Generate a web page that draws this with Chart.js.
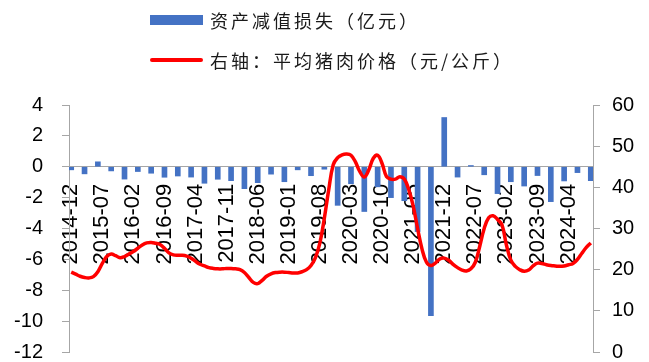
<!DOCTYPE html>
<html>
<head>
<meta charset="utf-8">
<script src="https://cdn.jsdelivr.net/npm/chart.js@4/dist/chart.umd.min.js"></script>
<style>
  html, body { margin: 0; padding: 0; background: #ffffff; }
  canvas { display: block; }
</style>
</head>
<body>
<canvas id="chart" width="649" height="362"></canvas>
<script>
// Quarter-end months that carry an impairment figure
const quarterLabels = [
  '2014-12','2015-03','2015-06','2015-09','2015-12','2016-03','2016-06','2016-09',
  '2016-12','2017-03','2017-06','2017-09','2017-12','2018-03','2018-06','2018-09',
  '2018-12','2019-03','2019-06','2019-09','2019-12','2020-03','2020-06','2020-09',
  '2020-12','2021-03','2021-06','2021-09','2021-12','2022-03','2022-06','2022-09',
  '2022-12','2023-03','2023-06','2023-09','2023-12','2024-03','2024-06','2024-09'
];

// 资产减值损失（亿元）, one value per quarter
const impairmentLoss = [
  -0.20, -0.46, 0.32, -0.27, -0.80, -0.31, -0.42, -0.68,
  -0.60, -0.67, -1.07, -0.81, -0.90, -1.42, -1.03, -0.48,
  -0.97, -0.20, -0.58, -0.16, -2.50, -1.10, -2.90, -1.30,
  -2.00, -2.20, -4.20, -9.64, 3.19, -0.67, 0.08, -0.52,
  -1.74, -0.97, -1.25, -0.57, -2.26, -0.92, -0.38, -0.90
];

// 平均猪肉价格（元/公斤）, monthly from 2014-12 to 2024-09
const pigPrice = [
  19.4, 18.9, 18.4, 18.1, 18.0, 18.3, 19.5, 21.5, 23.2, 23.8,
  23.4, 22.9, 23.2, 23.8, 24.4, 25.2, 26.0, 26.5, 26.6, 26.4,
  26.1, 25.2, 24.1, 23.6, 23.5, 23.5, 23.3, 22.8, 22.0, 21.3,
  20.9, 20.5, 20.3, 20.2, 20.2, 20.3, 20.3, 20.2, 20.0, 19.3,
  18.1, 16.9, 16.6, 17.4, 18.4, 19.0, 19.3, 19.4, 19.4, 19.3,
  19.2, 19.2, 19.5, 20.0, 21.0, 22.9, 26.5, 32.5, 39.5, 45.5,
  47.2, 47.9, 48.1, 47.8, 46.2, 43.8, 42.5, 44.2, 47.0, 47.8,
  45.8, 42.6, 42.0, 42.0, 42.6, 42.0, 39.5, 35.5, 30.0, 25.0,
  21.8, 21.0, 21.6, 22.6, 22.8, 22.3, 21.3, 20.5, 19.9, 19.7,
  20.2, 21.8, 25.7, 30.0, 32.6, 33.1, 32.2, 30.9, 26.0, 22.3,
  20.8, 20.0, 19.6, 19.9, 20.9, 21.6, 21.5, 21.2, 21.0, 20.9,
  20.8, 20.9, 21.2, 21.5, 22.5, 24.0, 25.4, 26.5
];

// Category labels printed along the zero line
const tickLabels = [
  '2014-12','2015-07','2016-02','2016-09','2017-04','2017-11','2018-06','2019-01',
  '2019-08','2020-03','2020-10','2021-05','2021-12','2022-07','2023-02','2023-09','2024-04'
];

const seriesNames = ['资产减值损失（亿元）', '右轴：平均猪肉价格（元/公斤）'];

// Monthly category axis
const months = [];
for (let y = 2014, m = 12; months.length < pigPrice.length; ) {
  months.push(y + '-' + String(m).padStart(2, '0'));
  m++;
  if (m > 12) { m = 1; y++; }
}
const impairmentByMonth = months.map(mo => {
  const k = quarterLabels.indexOf(mo);
  return k >= 0 ? impairmentLoss[k] : null;
});

const BAR_BLUE = '#4472C4';
const LINE_RED = '#FF0000';
const AXIS_GREY = '#A6A6A6';
const TICK_FONT = { family: '"Liberation Sans", Arial, sans-serif', size: 20, lineHeight: 1 };

// Keep the value axes from reserving label padding above/below the plot
function fixValueAxis(width) {
  return function (scale) {
    scale.width = width;
    scale.paddingTop = 10;
    scale.paddingBottom = 10;
  };
}

// Two-row key drawn at the top left of the plot
const seriesKey = {
  id: 'seriesKey',
  afterDraw(chart) {
    const ctx = chart.ctx;
    ctx.save();
    ctx.font = '18px "Noto Sans CJK SC", sans-serif';
    ctx.letterSpacing = '3px';
    ctx.textBaseline = 'middle';
    ctx.textAlign = 'left';

    ctx.fillStyle = BAR_BLUE;
    ctx.fillRect(150, 15, 53, 10);
    ctx.fillStyle = '#1a1a1a';
    ctx.fillText(seriesNames[0], 210, 21);

    ctx.strokeStyle = LINE_RED;
    ctx.lineWidth = 4;
    ctx.lineCap = 'round';
    ctx.beginPath();
    ctx.moveTo(152, 60);
    ctx.lineTo(201, 60);
    ctx.stroke();
    ctx.fillStyle = '#1a1a1a';
    ctx.fillText(seriesNames[1], 210, 61);
    ctx.restore();
  }
};

new Chart(document.getElementById('chart'), {
  type: 'bar',
  data: {
    labels: months,
    datasets: [
      {
        type: 'line',
        label: seriesNames[1],
        data: pigPrice,
        yAxisID: 'y1',
        borderColor: LINE_RED,
        backgroundColor: LINE_RED,
        borderWidth: 3.5,
        pointRadius: 0,
        tension: 0.4,
        fill: false,
        order: 0
      },
      {
        type: 'bar',
        label: seriesNames[0],
        data: impairmentByMonth,
        yAxisID: 'y',
        backgroundColor: BAR_BLUE,
        barThickness: 5,
        order: 1
      }
    ]
  },
  options: {
    responsive: false,
    animation: false,
    devicePixelRatio: 1,
    layout: { padding: { top: 105, left: 0, right: 0, bottom: 0 } },
    plugins: {
      legend: { display: false },
      tooltip: { enabled: false }
    },
    scales: {
      x: {
        type: 'category',
        offset: true,
        position: { y: 0 },
        grid: { display: false },
        border: { display: true, color: AXIS_GREY, width: 1 },
        ticks: {
          autoSkip: false,
          minRotation: 90,
          maxRotation: 90,
          padding: 9,
          color: '#000000',
          font: { family: '"Liberation Sans", Arial, sans-serif', size: 22, lineHeight: 1.2 },
          callback(value) {
            const lab = this.getLabelForValue(value);
            return tickLabels.includes(lab) ? lab : '';
          }
        }
      },
      y: {
        position: 'left',
        min: -12,
        max: 4,
        ticks: { stepSize: 2, padding: 19, color: '#000000', font: TICK_FONT },
        grid: { drawOnChartArea: false, drawTicks: true, tickLength: 7, color: AXIS_GREY },
        border: { display: true, color: AXIS_GREY, width: 1 },
        afterFit: fixValueAxis(69)
      },
      y1: {
        position: 'right',
        min: 0,
        max: 60,
        ticks: { stepSize: 10, padding: 12, color: '#000000', font: TICK_FONT },
        grid: { drawOnChartArea: false, drawTicks: true, tickLength: 7, color: AXIS_GREY },
        border: { display: true, color: AXIS_GREY, width: 1 },
        afterFit: fixValueAxis(56)
      }
    }
  },
  plugins: [seriesKey]
});
</script>
</body>
</html>
